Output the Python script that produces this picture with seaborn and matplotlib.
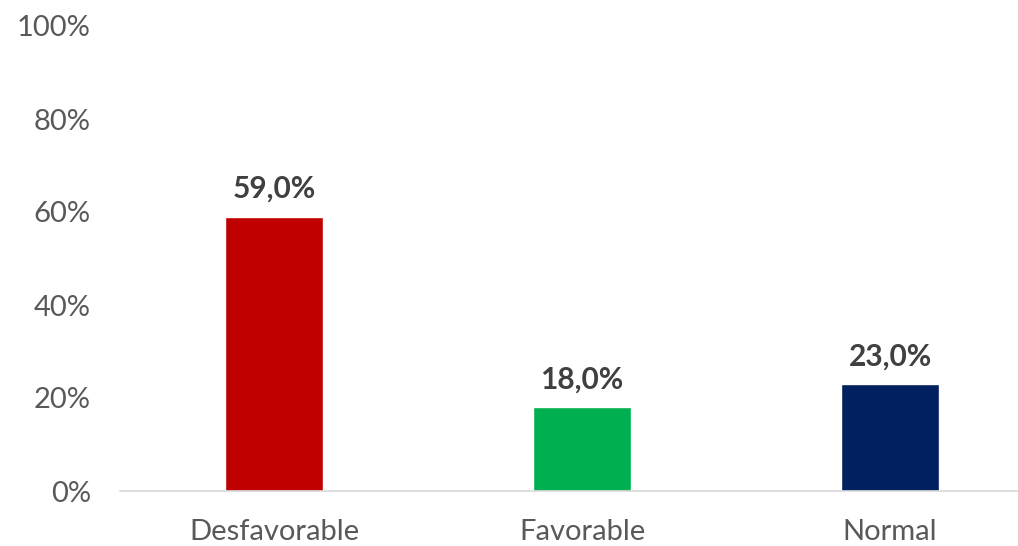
import matplotlib
matplotlib.use("Agg")
import matplotlib.pyplot as plt
import seaborn as sns
import pandas as pd

categories = ["Desfavorable", "Favorable", "Normal"]
values = [59.0, 18.0, 23.0]
colors = ["#C00000", "#00B050", "#002060"]
yticks = [0, 20, 40, 60, 80, 100]

sns.set_theme(style="white")
plt.rcParams['font.family'] = ['Lato', 'DejaVu Sans']

df = pd.DataFrame({"cat": categories, "val": values})

fig = plt.figure(figsize=(10.18, 5.46), dpi=100)
ax = fig.add_axes([120/1018, 55/546, 924/1018, 465/546])
sns.barplot(data=df, x="cat", y="val", hue="cat", palette=colors, width=0.315,
            ax=ax, legend=False, saturation=1)

ax.set_ylim(0, 100)
ax.set_xlim(-0.5, 2.5)
ax.set_yticks(yticks)
ax.set_yticklabels([f"{t}%" for t in yticks], color="#595959", fontsize=21)
ax.tick_params(axis="x", colors="#595959", labelsize=21, length=0, pad=20)
ax.tick_params(axis="y", length=0, pad=21)
for lbl in ax.get_xticklabels():
    lbl.set_color("#595959")
ax.set_xlabel("")
ax.set_ylabel("")
for s in ["top", "right", "left"]:
    ax.spines[s].set_visible(False)
ax.spines["bottom"].set_color("#D9D9D9")
ax.spines["bottom"].set_linewidth(1.2)

for i, v in enumerate(values):
    ax.text(i, v + 3.0, f"{v:.1f}%".replace(".", ","), ha="center", va="bottom",
            fontsize=21.5, fontweight="bold", color="#404040")

fig.savefig("out.png", dpi=100)
